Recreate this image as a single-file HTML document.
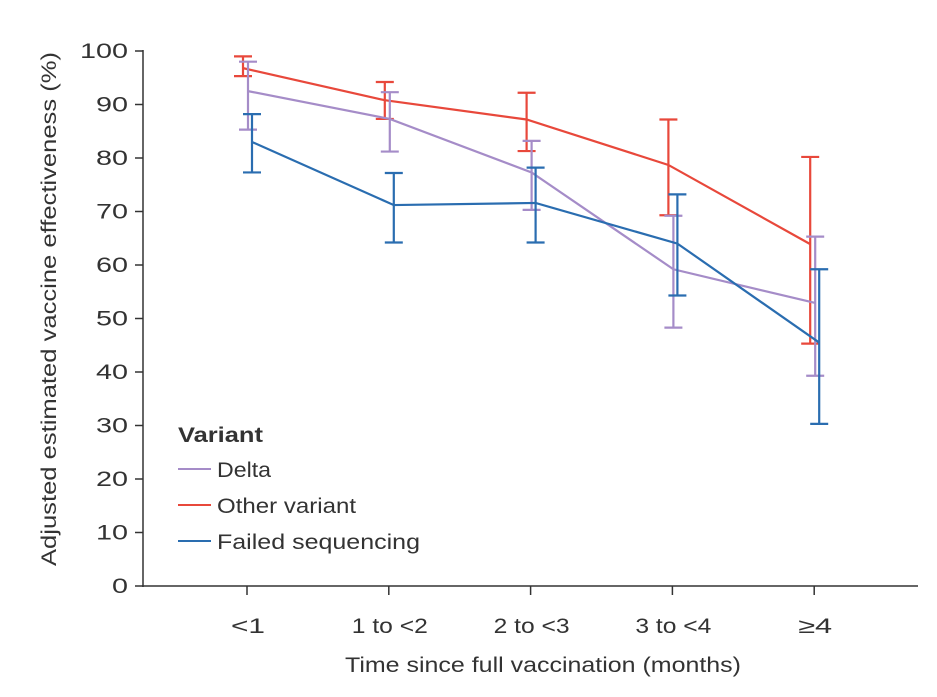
<!DOCTYPE html>
<html><head><meta charset="utf-8"><style>
body{margin:0;background:#fff}
svg text{font-family:"Liberation Sans",sans-serif;fill:#333}
</style></head><body>
<svg width="937" height="692">
<g id="axes"></g><g id="plot"></g>
<text x="345" y="672" font-size="21" textLength="396" lengthAdjust="spacingAndGlyphs">Time since full vaccination (months)</text>
<text transform="translate(56,566) rotate(-90)" font-size="21" textLength="514" lengthAdjust="spacingAndGlyphs">Adjusted estimated vaccine effectiveness (%)</text>
<g>
<text x="178" y="442" font-size="21" font-weight="bold" textLength="85" lengthAdjust="spacingAndGlyphs">Variant</text>
<line x1="178" x2="211" y1="469" y2="469" stroke="#a58cc8" stroke-width="2"/>
<text x="217" y="477" font-size="21" textLength="54" lengthAdjust="spacingAndGlyphs">Delta</text>
<line x1="178" x2="211" y1="505" y2="505" stroke="#e8483b" stroke-width="2"/>
<text x="217" y="513" font-size="21" textLength="139" lengthAdjust="spacingAndGlyphs">Other variant</text>
<line x1="178" x2="211" y1="541" y2="541" stroke="#2a6db0" stroke-width="2"/>
<text x="217" y="549" font-size="21" textLength="203" lengthAdjust="spacingAndGlyphs">Failed sequencing</text>
</g>
</svg>
<script>
const categories=["<1","1 to <2","2 to <3","3 to <4","≥4"];
const yTicks=[0,10,20,30,40,50,60,70,80,90,100];
const deltaVals=[92.5,87.3,77.3,59.2,52.9];
const deltaLo=[85.3,81.2,70.3,48.3,39.3];
const deltaHi=[98.0,92.3,83.2,69.2,65.3];
const otherVals=[96.8,90.8,87.2,78.7,63.9];
const otherLo=[95.3,87.3,81.3,69.3,45.3];
const otherHi=[99.0,94.2,92.2,87.2,80.2];
const failedVals=[83.0,71.2,71.6,64.0,45.5];
const failedLo=[77.3,64.2,64.2,54.3,30.3];
const failedHi=[88.2,77.2,78.2,73.2,59.2];
const NS="http://www.w3.org/2000/svg";
const y=v=>586-5.35*v;
const x=i=>247+141.8*i;
function mk(tag,attrs,parent){const e=document.createElementNS(NS,tag);for(const k in attrs)e.setAttribute(k,attrs[k]);parent.appendChild(e);return e;}
const ax=document.getElementById('axes'),pl=document.getElementById('plot');
let a=mk('line',{x1:143,x2:143,y1:50,y2:587,stroke:'#333','stroke-width':1.5},ax);


a=mk('line',{x1:142,x2:918,y1:586,y2:586,stroke:'#333','stroke-width':1.5},ax);


yTicks.forEach(t=>{
 let l=mk('line',{x1:135,x2:143,y1:y(t),y2:y(t),stroke:'#333','stroke-width':1.5},ax);
 
 
 const s=String(t);
 let tx=mk('text',{x:128-16*s.length,y:y(t)+7,'font-size':21,textLength:16*s.length,lengthAdjust:'spacingAndGlyphs'},ax);tx.textContent=s;
 
 
});
categories.forEach((c,i)=>{
 let l=mk('line',{x1:x(i),x2:x(i),y1:586,y2:595,stroke:'#333','stroke-width':1.5},ax);
 
 
 const w=c.length>3?76:34;
 let tx=mk('text',{x:x(i)-w/2+1,y:633,'font-size':21,textLength:w,lengthAdjust:'spacingAndGlyphs'},ax);tx.textContent=c;
 
 
});
function series(name,vals,lo,hi,color,off){
 const g=mk('g',{},pl);
 
 
 vals.forEach((v,i)=>{
  const cx=x(i)+off;
  const e=mk('path',{d:`M${cx},${y(lo[i])}V${y(hi[i])}M${cx-9},${y(lo[i])}H${cx+9}M${cx-9},${y(hi[i])}H${cx+9}`,stroke:color,'stroke-width':2.2,fill:'none'},g);
  
  
 });
 const p=mk('polyline',{points:vals.map((v,i)=>(x(i)+off)+','+y(v)).join(' '),stroke:color,'stroke-width':2.2,fill:'none'},g);
 
 
}
series('other',otherVals,otherLo,otherHi,'#e8483b',-4);
series('delta',deltaVals,deltaLo,deltaHi,'#a58cc8',1);
series('failed',failedVals,failedLo,failedHi,'#2a6db0',5);
</script>
</body></html>
